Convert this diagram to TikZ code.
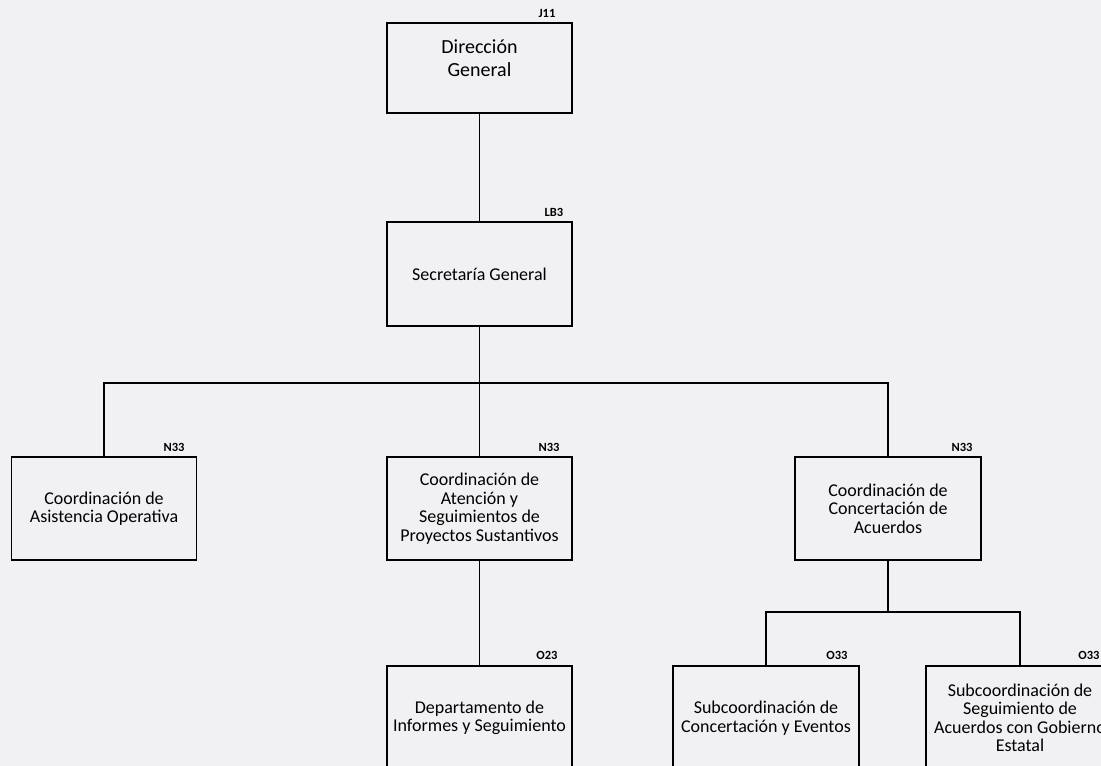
\documentclass[tikz,border=0pt]{standalone}
\usepackage{fontspec}
\setmainfont{Carlito}
\usepackage{tikz}

\begin{document}
\begin{tikzpicture}[x=1pt,y=-1pt,
  unit/.style={draw,line width=1.4pt,rectangle,minimum width=185pt,minimum height=103pt,
    align=center,font=\fontsize{18}{18.5}\selectfont,inner sep=2pt},
  code/.style={font=\fontsize{12.5}{14}\selectfont\bfseries,inner sep=0pt},
  link/.style={line width=1.4pt}]
 \useasboundingbox (0,0) rectangle (1101,766);
 \clip (0,0) rectangle (1101,766);
 \fill[fill={rgb,255:red,241;green,241;blue,243}] (0,0) rectangle (1101,766);

 \draw (479.5,68) node[unit,minimum height=90pt,font=\fontsize{20}{23}\selectfont] (dir) {Dirección\\General\\[-3pt]\mbox{}};
 \draw (479.5,274) node[unit,minimum height=104pt] (sec) {Secretaría General};
 \draw (104,508.5) node[unit] (asis) {Coordinación de\\Asistencia Operativa};
 \draw (479.5,508.5) node[unit] (aten) {Coordinación de\\Atención y\\Seguimientos de\\Proyectos Sustantivos};
 \draw (888,508.5) node[unit,minimum width=186pt] (acuer) {Coordinación de\\Concertación de\\Acuerdos};
 \draw (479.5,718) node[unit,minimum height=104pt] (depto) {Departamento de\\Informes y Seguimiento};
 \draw (766,718) node[unit,minimum width=186pt,minimum height=104pt] (subce) {Subcoordinación de\\Concertación y Eventos};
 \draw (1020,718) node[unit,minimum width=188pt,minimum height=104pt] (subgob) {Subcoordinación de\\Seguimiento de\\Acuerdos con Gobierno\\Estatal};

 % claves de puesto
 \draw (547,13) node[code] (kdir) {J11};
 \draw (554,212) node[code] (ksec) {LB3};
 \draw (174,447) node[code] (kasis) {N33};
 \draw (549,447) node[code] (katen) {N33};
 \draw (962,447) node[code] (kacuer) {N33};
 \draw (547,655) node[code] (kdepto) {O23};
 \draw (837,655) node[code] (ksubce) {O33};
 \draw (1089,655) node[code] (ksubgob) {O33};

 \coordinate (bar1) at (479.5,383);
 \coordinate (bar2) at (888,612);

 \draw[link] (dir) -- (sec);
 \draw[link] (sec) -- (aten);
 \draw[link] (bar1) -| (asis);
 \draw[link] (bar1) -| (acuer);
 \draw[link] (aten) -- (depto);
 \draw[link] (acuer) -- (bar2) -| (subce);
 \draw[link] (bar2) -| (subgob);

\end{tikzpicture}
\end{document}
